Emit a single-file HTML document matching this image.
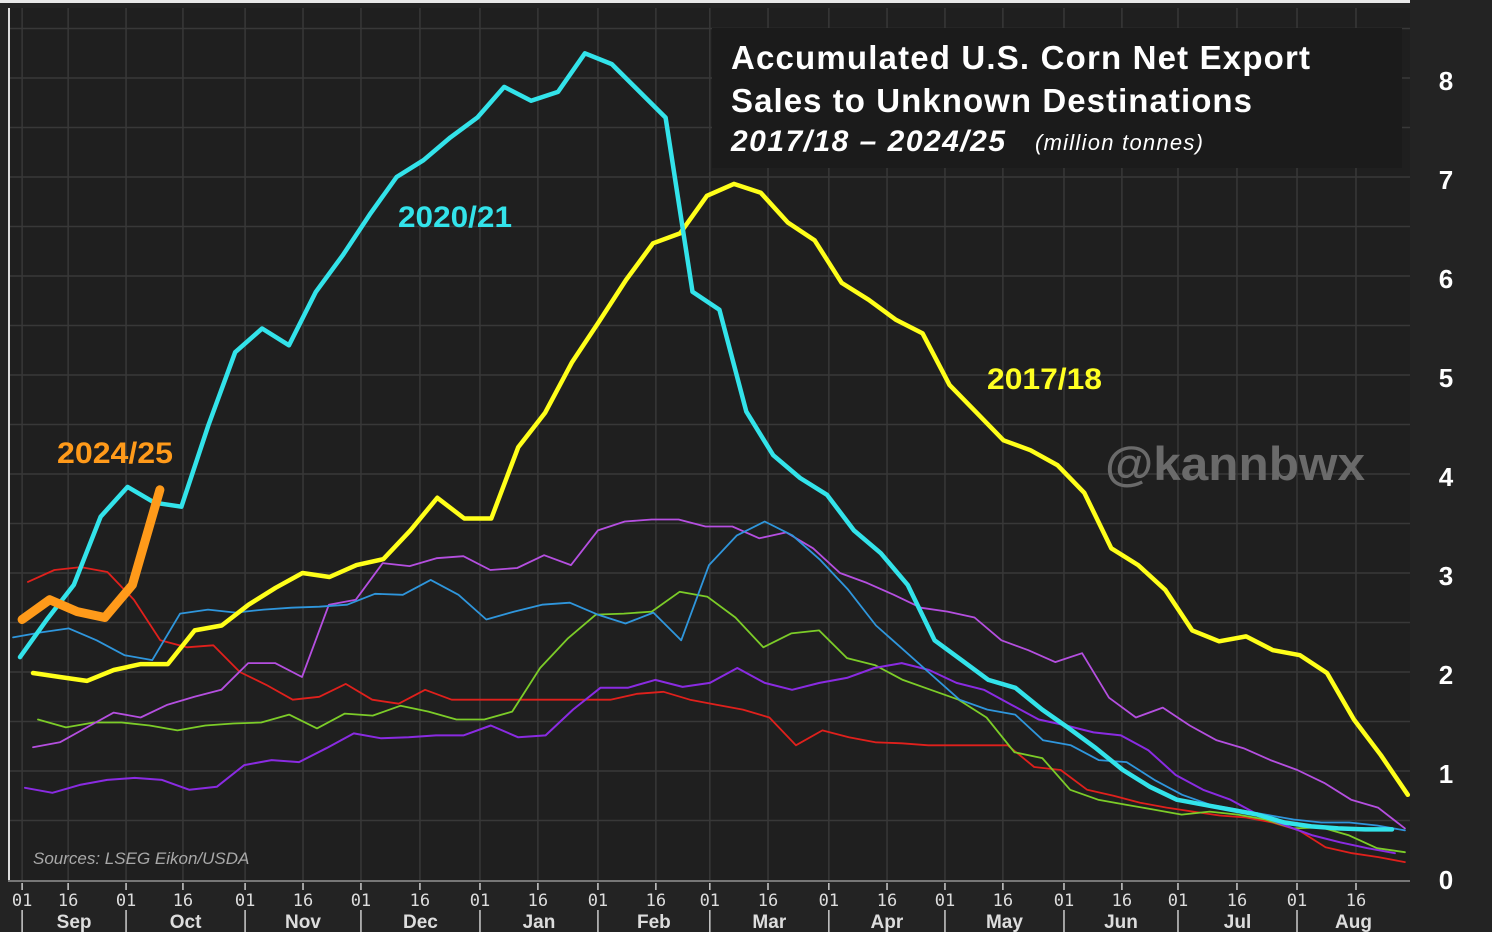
<!DOCTYPE html>
<html><head><meta charset="utf-8"><style>
html,body{margin:0;padding:0;background:#222;}
svg{display:block;font-family:"Liberation Sans",Arial,sans-serif;}
</style></head><body>
<svg id="chart" width="1492" height="932" viewBox="0 0 1492 932" xmlns="http://www.w3.org/2000/svg">
<rect x="0" y="0" width="1492" height="932" fill="#232323"/>
<rect x="8" y="8" width="1402" height="872" fill="#1f1f1f"/>
<rect x="0" y="0" width="1410" height="3" fill="#e8e8e8"/>
<line x1="9" y1="8" x2="9" y2="880" stroke="#dddddd" stroke-width="2"/>
<g id="grid"></g>
<rect x="712" y="28" width="690" height="140" fill="#1b1b1b"/>
<g id="series"></g>
<g id="axes"></g>
<text x="731" y="69" fill="#ffffff" font-size="33" font-weight="bold" textLength="579" lengthAdjust="spacing">Accumulated U.S. Corn Net Export</text>
<text x="731" y="112" fill="#ffffff" font-size="33" font-weight="bold" textLength="521" lengthAdjust="spacing">Sales to Unknown Destinations</text>
<text x="731" y="151" fill="#ffffff" font-size="30" font-weight="bold" font-style="italic" textLength="274" lengthAdjust="spacing">2017/18 – 2024/25</text>
<text x="1035" y="150" fill="#ffffff" font-size="22" font-style="italic" textLength="168" lengthAdjust="spacing">(million tonnes)</text>
<text x="1105" y="480" fill="#6a6a6a" font-size="47" font-weight="bold" textLength="260" lengthAdjust="spacingAndGlyphs">@kannbwx</text>
<text x="398" y="227" fill="#33e3ea" font-size="30" font-weight="bold" textLength="114" lengthAdjust="spacingAndGlyphs">2020/21</text>
<text x="987" y="389" fill="#ffff22" font-size="30" font-weight="bold" textLength="115" lengthAdjust="spacingAndGlyphs">2017/18</text>
<text x="57" y="463" fill="#ff9a1a" font-size="30" font-weight="bold" textLength="116" lengthAdjust="spacingAndGlyphs">2024/25</text>
<text x="33" y="864" fill="#a8a8a8" font-size="17" font-style="italic">Sources: LSEG Eikon/USDA</text>
</svg>
<script>
const yTickLabels = [0,1,2,3,4,5,6,7,8];
const dayTickLabels = ["01","16","01","16","01","16","01","16","01","16","01","16","01","16","01","16","01","16","01","16","01","16","01","16"];
const monthLabels = ["Sep","Oct","Nov","Dec","Jan","Feb","Mar","Apr","May","Jun","Jul","Aug"];
// axis layout: tick week positions (weeks since season start)
const tickWeeks = [0.08,1.82,4.01,6.16,8.51,10.7,12.89,15.12,17.39,19.58,21.85,24.04,26.08,28.28,30.58,32.78,34.97,37.16,39.47,41.66,43.78,46.01,48.28,50.51];

const cyan2021 = [2.15,2.53,2.88,3.57,3.87,3.71,3.67,4.49,5.23,5.47,5.30,5.84,6.21,6.62,7.0,7.17,7.40,7.60,7.91,7.77,7.86,8.25,8.14,7.87,7.60,5.84,5.66,4.63,4.19,3.96,3.79,3.43,3.20,2.88,2.32,2.12,1.92,1.84,1.62,1.43,1.23,1.01,0.84,0.71,0.66,0.61,0.56,0.48,0.44,0.42,0.41,0.41];
const yellow1718 = [1.99,1.95,1.91,2.02,2.08,2.08,2.42,2.47,2.68,2.85,3.0,2.96,3.08,3.14,3.43,3.76,3.55,3.55,4.27,4.62,5.13,5.54,5.96,6.33,6.43,6.81,6.93,6.84,6.54,6.36,5.93,5.76,5.56,5.42,4.90,4.62,4.34,4.24,4.09,3.81,3.25,3.08,2.83,2.42,2.31,2.36,2.22,2.17,1.99,1.52,1.16,0.76];
const orange2425 = [2.53,2.73,2.61,2.55,2.88,3.84];
const redSeries = [2.91,3.03,3.06,3.01,2.73,2.32,2.25,2.27,2.00,1.87,1.72,1.75,1.88,1.72,1.68,1.82,1.72,1.72,1.72,1.72,1.72,1.72,1.72,1.78,1.80,1.72,1.67,1.62,1.54,1.26,1.41,1.34,1.29,1.28,1.26,1.26,1.26,1.26,1.04,1.01,0.81,0.75,0.68,0.63,0.59,0.55,0.53,0.48,0.40,0.23,0.17,0.13,0.08];
const blueSeries = [2.35,2.40,2.44,2.32,2.17,2.12,2.59,2.63,2.60,2.63,2.65,2.66,2.68,2.79,2.78,2.93,2.78,2.53,2.61,2.68,2.70,2.58,2.49,2.60,2.32,3.08,3.38,3.52,3.38,3.13,2.83,2.47,2.22,1.97,1.72,1.62,1.57,1.31,1.26,1.11,1.09,0.91,0.76,0.66,0.61,0.56,0.51,0.48,0.48,0.45,0.40];
const violetSeries = [1.24,1.29,1.44,1.59,1.54,1.67,1.75,1.82,2.09,2.09,1.95,2.68,2.73,3.10,3.07,3.15,3.17,3.03,3.05,3.18,3.08,3.43,3.52,3.54,3.54,3.47,3.47,3.35,3.41,3.25,3.00,2.90,2.78,2.65,2.61,2.55,2.32,2.22,2.10,2.19,1.74,1.54,1.64,1.46,1.31,1.23,1.11,1.01,0.88,0.71,0.63,0.42];
const purpleSeries = [0.83,0.78,0.86,0.91,0.93,0.91,0.81,0.84,1.06,1.11,1.09,1.23,1.38,1.33,1.34,1.36,1.36,1.46,1.34,1.36,1.62,1.84,1.84,1.92,1.85,1.89,2.04,1.89,1.82,1.89,1.94,2.04,2.09,2.02,1.89,1.82,1.67,1.52,1.46,1.39,1.36,1.21,0.96,0.81,0.71,0.56,0.45,0.35,0.28,0.22,0.17];
const greenSeries = [1.52,1.44,1.49,1.49,1.46,1.41,1.46,1.48,1.49,1.57,1.43,1.58,1.56,1.66,1.60,1.52,1.52,1.60,2.04,2.34,2.58,2.59,2.61,2.81,2.76,2.55,2.25,2.39,2.42,2.14,2.07,1.92,1.82,1.72,1.54,1.19,1.13,0.81,0.71,0.66,0.61,0.56,0.59,0.56,0.51,0.42,0.43,0.35,0.22,0.18];

const NS = "http://www.w3.org/2000/svg";
function xScale(week){ return 20 + week*26.45; }
function yScale(v){ return 870 - v*99; }
function mk(tag, attrs, parent){ const e=document.createElementNS(NS,tag); for(const k in attrs) e.setAttribute(k,attrs[k]); parent.appendChild(e); return e; }

const grid = document.getElementById('grid');
for(let v=0.5; v<=8.5; v+=0.5){
  const l = mk('line',{x1:10,x2:1410,y1:yScale(v),y2:yScale(v),stroke:'#383838','stroke-width':1.5},grid);
  
  
}
tickWeeks.forEach(w=>{
  const x = xScale(w);
  const l = mk('line',{x1:x,x2:x,y1:8,y2:880,stroke:'#383838','stroke-width':1.5},grid);
  
  
});

const axes = document.getElementById('axes');
const axl = mk('line',{x1:8,x2:1410,y1:881,y2:881,stroke:'#777','stroke-width':2},axes);


yTickLabels.forEach(v=>{
  let y = yScale(v)+12;
  if(v===0) y = 889;
  const t = mk('text',{x:1446,y:y,fill:'#fff','font-size':26,'font-weight':'bold','text-anchor':'middle'},axes);
  t.textContent = v;
  
  
});
dayTickLabels.forEach((d,i)=>{
  const x = xScale(tickWeeks[i]);
  const tk = mk('line',{x1:x,x2:x,y1:883,y2:890,stroke:'#ccc','stroke-width':1.5},axes);
  
  
  const t = mk('text',{x:x,y:906,fill:'#ddd','font-size':17,'text-anchor':'middle','font-family':'"DejaVu Sans Mono",monospace'},axes);
  t.textContent = d;
  
  
});
monthLabels.forEach((m,i)=>{
  const x0 = xScale(tickWeeks[i*2]);
  const x1 = i<11 ? xScale(tickWeeks[i*2+2]) : 1410;
  const s = mk('line',{x1:x0,x2:x0,y1:910,y2:932,stroke:'#ccc','stroke-width':1.5},axes);
  
  
  const t = mk('text',{x:(x0+x1)/2,y:928,fill:'#ddd','font-size':19,'font-weight':'bold','text-anchor':'middle'},axes);
  t.textContent = m;
  
  
});

const seriesG = document.getElementById('series');
function drawSeries(vals, startW, endW, color, width, name){
  const n = vals.length;
  const pts = vals.map((v,i)=> xScale(startW + (endW-startW)*i/(n-1)).toFixed(1)+','+yScale(v).toFixed(1)).join(' ');
  const p = mk('polyline',{points:pts,fill:'none',stroke:color,'stroke-width':width,'stroke-linejoin':'round','stroke-linecap':'round'},seriesG);
  
  
}
drawSeries(redSeries,0.3,52.36,'#e0201c',1.8,'line-red-season');
drawSeries(greenSeries,0.68,52.36,'#7ccc28',1.8,'line-green-season');
drawSeries(purpleSeries,0.19,51.98,'#8a2be2',2,'line-purple-season');
drawSeries(violetSeries,0.49,52.36,'#b54fe0',1.8,'line-violet-season');
drawSeries(blueSeries,-0.26,52.36,'#2f96dc',1.8,'line-blue-season');
drawSeries(yellow1718,0.49,52.47,'#ffff1a',4.5,'line-2017-18');
drawSeries(cyan2021,0,51.87,'#33e3ea',4.5,'line-2020-21');
drawSeries(orange2425,0.08,5.29,'#ff9a1a',9,'line-2024-25');
</script>
</body></html>
